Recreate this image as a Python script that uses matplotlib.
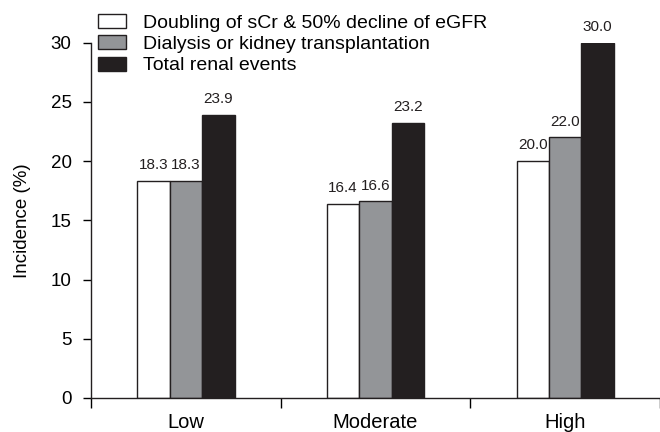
import matplotlib.pyplot as plt
import numpy as np

plt.rcParams["font.family"] = ["Liberation Sans", "DejaVu Sans"]

categories = ["Low", "Moderate", "High"]
series_names = [
    "Doubling of sCr & 50% decline of eGFR",
    "Dialysis or kidney transplantation",
    "Total renal events",
]
doubling = [18.3, 16.4, 20.0]
dialysis = [18.3, 16.6, 22.0]
total = [23.9, 23.2, 30.0]
y_ticks = [0, 5, 10, 15, 20, 25, 30]

colors = ["#ffffff", "#939598", "#231f20"]

fig = plt.figure(figsize=(6.6, 4.32), dpi=100)
ax = fig.add_axes([0.138, 0.079, 0.862, 0.822])

x = np.arange(len(categories))
width = 0.171
for i, (vals, name, color) in enumerate(zip([doubling, dialysis, total], series_names, colors)):
    pos = x + (i - 1) * width
    ax.bar(pos, vals, width, color=color, edgecolor="#231f20", linewidth=1.0, label=name)
    for px, v in zip(pos, vals):
        ax.text(px, v + 0.75, f"{v:.1f}", ha="center", va="bottom", fontsize=11,
                color="#231f20", clip_on=False)

ax.set_xlim(-0.5, 2.5)
ax.set_ylim(0, 30)
ax.set_yticks(y_ticks)
ax.set_xticks(x)
ax.set_xticklabels(categories, fontsize=14.5)
ax.set_xticks([-0.5, 0.5, 1.5, 2.5], minor=True)
ax.tick_params(axis="x", which="major", length=0, pad=11)
ax.tick_params(axis="x", which="minor", length=7, width=1, direction="out")
ax.tick_params(axis="y", length=6, width=1, labelsize=13.5, pad=8)
ax.set_ylabel("Incidence (%)", fontsize=13.5, labelpad=14)

for side in ["top", "right"]:
    ax.spines[side].set_visible(False)
for side in ["left", "bottom"]:
    ax.spines[side].set_linewidth(1.0)
    ax.spines[side].set_color("#231f20")

fig.legend(loc="upper left", bbox_to_anchor=(0.1485, 0.967), frameon=False,
           fontsize=14, handlelength=1.44, handleheight=0.72, handletextpad=0.88,
           labelspacing=0.18, borderpad=0.0, borderaxespad=0.0)

fig.savefig("out.png", dpi=100)
